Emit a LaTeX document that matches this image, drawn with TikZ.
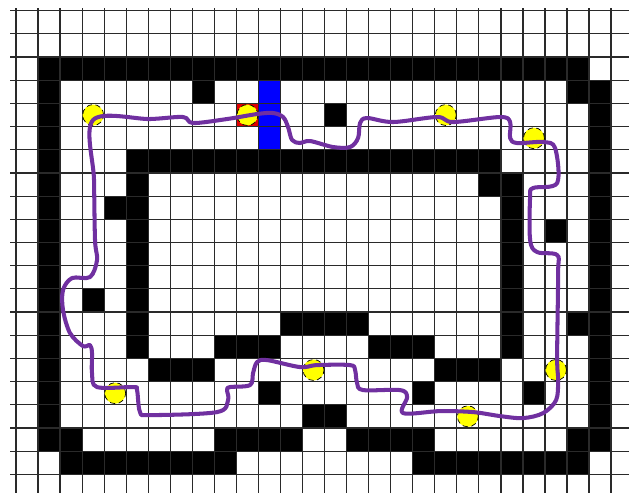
\documentclass[tikz,border=0pt]{standalone}
\usepackage{tikz}
\definecolor{mazepath}{HTML}{7030A0}
\definecolor{mazegrid}{HTML}{2A2A2A}
\definecolor{mazegoal}{HTML}{FFFF00}
\definecolor{mazedoor}{HTML}{0000FF}
\definecolor{mazestart}{HTML}{E00000}

\begin{document}
\begin{tikzpicture}[x=0.4408cm, y=-0.4636cm, wall/.style={fill=black}, gridline/.style={draw=mazegrid, line width=0.7pt}, goal/.style={circle, fill=mazegoal, draw=black, densely dashed, line width=0.4pt, minimum size=0.42cm, inner sep=0pt}, route/.style={draw=mazepath, line width=2.3pt, line cap=round, line join=round}]
\useasboundingbox (-0.726,-0.4616) rectangle (27.813,20.764);
% walls (left/top corner, right/bottom corner)
\foreach \a/\b/\c/\d in {1/2/26/3, 1/2/2/19, 25/3/27/4, 26/3/27/19, 8/3/9/4, 14/4/15/5,
  5/6/22/7, 21/7/23/8, 5/6/6/15, 22/7/23/15, 4/8/5/9, 24/9/25/10, 3/12/4/13,
  12/13/16/14, 25/13/26/14, 9/14/12/15, 16/14/19/15, 6/15/9/16, 19/15/22/16,
  11/16/12/17, 18/16/19/17, 23/16/24/17, 13/17/15/18, 1/18/3/19, 9/18/13/19,
  15/18/19/19, 25/18/27/19, 2/19/10/20, 18/19/26/20}
  \fill[wall] (\a,\b) rectangle (\c,\d);
\fill[mazedoor] (11,3) rectangle (12,6);
\fill[mazestart] (10,4) rectangle (11,5);
% grid
\foreach \i in {0,...,27} \draw[gridline] (\i,-0.1) -- (\i,20.8);
\foreach \j in {0,...,20} \draw[gridline] (-0.27,\j) -- (27.9,\j);
% goals
\foreach \x/\y [count=\k] in {3/4, 10/4, 19/4, 23/5, 24/15, 20/17, 13/15, 4/16}
  \node[goal] (g\k) at (\x+0.5,\y+0.5) {};
% route, in pixel units
\begin{scope}[shift={(-0.726,-0.4616)}, x=0.02cm, y=-0.02cm]
\draw[route] plot[smooth cycle, tension=0.55] coordinates {
  (93,120) (150,119) (183,117) (193,123) (227,119) (257,114) (273,113) (283,117)
  (288,127) (292,140) (300,143) (310,141) (333,147) (350,147) (358,138) (360,123)
  (367,118) (393,122) (437,117) (453,122) (500,117) (510,122) (510,138) (517,143)
  (543,142) (555,148) (557,183) (533,188) (530,197) (530,240) (537,252) (557,255)
  (558,273) (557,357) (558,380) (556,400) (543,413) (523,418) (500,416) (473,412)
  (440,411) (403,413) (407,397) (400,390) (363,390) (357,383) (355,370) (350,365)
  (317,365) (300,367) (267,360) (257,362) (253,373) (250,385) (230,387) (227,390)
  (228,400) (217,412) (150,415) (140,412) (137,390) (133,387) (97,387) (92,373)
  (92,353) (90,345) (83,346) (70,333) (63,310) (63,290) (72,278) (90,277)
  (97,260) (95,240) (94,180)};
\end{scope}
\end{tikzpicture}
\end{document}
